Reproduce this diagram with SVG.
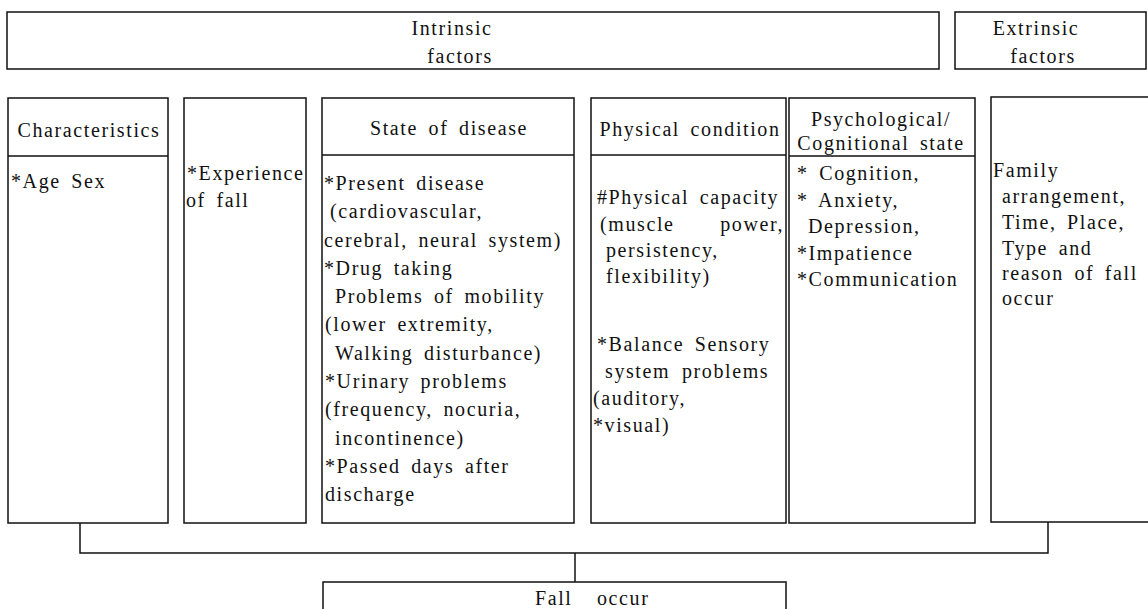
<svg xmlns="http://www.w3.org/2000/svg" width="1148" height="609" viewBox="0 0 1148 609">
<style>
.box{fill:#fff;stroke:#111;stroke-width:1.5}
.ln{fill:none;stroke:#111;stroke-width:1.5}
text{font-family:"Liberation Serif","Times New Roman",serif;font-size:20px;fill:#111;letter-spacing:1.6px;word-spacing:4px}
.c{text-anchor:middle}
.e{text-anchor:end}
</style>
<rect width="1148" height="609" fill="#fff"/>
<g id="intrinsic">
<rect class="box" x="7" y="12" width="932" height="57"/>
<text class="c" x="452" y="35">Intrinsic</text>
<text class="c" x="460" y="63">factors</text>
</g>
<g id="extrinsic">
<rect class="box" x="955" y="12" width="191" height="57"/>
<text class="c" x="1036" y="35">Extrinsic</text>
<text class="c" x="1043" y="63">factors</text>
</g>
<g id="characteristics">
<rect class="box" x="8" y="98" width="160" height="425"/>
<line class="ln" x1="8" y1="156" x2="168" y2="156"/>
<text class="c" x="89" y="137">Characteristics</text>
<text x="11" y="188">*Age Sex</text>
</g>
<g id="experience">
<rect class="box" x="184" y="98" width="122" height="425"/>
<text x="187" y="180">*Experience</text>
<text x="186" y="207">of fall</text>
</g>
<g id="disease">
<rect class="box" x="322" y="98" width="252" height="425"/>
<line class="ln" x1="322" y1="155" x2="574" y2="155"/>
<text class="c" x="449" y="135">State of disease</text>
<text x="324" y="190">*Present disease</text>
<text x="330" y="218">(cardiovascular,</text>
<text x="324" y="247">cerebral, neural system)</text>
<text x="324" y="275">*Drug taking</text>
<text x="335" y="303">Problems of mobility</text>
<text x="325" y="331">(lower extremity,</text>
<text x="335" y="360">Walking disturbance)</text>
<text x="325" y="388">*Urinary problems</text>
<text x="325" y="416">(frequency, nocuria,</text>
<text x="335" y="445">incontinence)</text>
<text x="325" y="473">*Passed days after</text>
<text x="325" y="501">discharge</text>
</g>
<g id="physical">
<rect class="box" x="591" y="98" width="195" height="425"/>
<line class="ln" x1="591" y1="155" x2="786" y2="155"/>
<text class="c" x="690" y="136">Physical condition</text>
<text x="597" y="204">#Physical capacity</text>
<text x="600" y="231">(muscle</text>
<text class="e" x="784" y="231">power,</text>
<text x="606" y="257">persistency,</text>
<text x="606" y="283">flexibility)</text>
<text x="597" y="351">*Balance Sensory</text>
<text x="605" y="378">system</text>
<text x="682" y="378">problems</text>
<text x="593" y="405">(auditory,</text>
<text x="593" y="432">*visual)</text>
</g>
<g id="psychological">
<rect class="box" x="789" y="98" width="186" height="425"/>
<line class="ln" x1="789" y1="156" x2="975" y2="156"/>
<text class="c" x="881" y="126">Psychological/</text>
<text class="c" x="881" y="150">Cognitional state</text>
<text x="797" y="180">* Cognition,</text>
<text x="797" y="207">* Anxiety,</text>
<text x="808" y="233">Depression,</text>
<text x="797" y="260">*Impatience</text>
<text x="797" y="286">*Communication</text>
</g>
<g id="extrinsic-detail">
<rect class="box" x="991" y="97" width="160" height="425"/>
<text x="993" y="177">Family</text>
<text x="1002" y="203">arrangement,</text>
<text x="1002" y="229">Time, Place,</text>
<text x="1002" y="255">Type and</text>
<text x="1002" y="280">reason of fall</text>
<text x="1002" y="305">occur</text>
</g>
<g id="connectors">
<path class="ln" d="M80,523 V553 H1048 V522"/>
<path class="ln" d="M575,553 V582"/>
</g>
<g id="fall-occur">
<rect class="box" x="323" y="582" width="463" height="40"/>
<text y="605"><tspan x="535">Fall</tspan><tspan x="597">occur</tspan></text>
</g>
</svg>
